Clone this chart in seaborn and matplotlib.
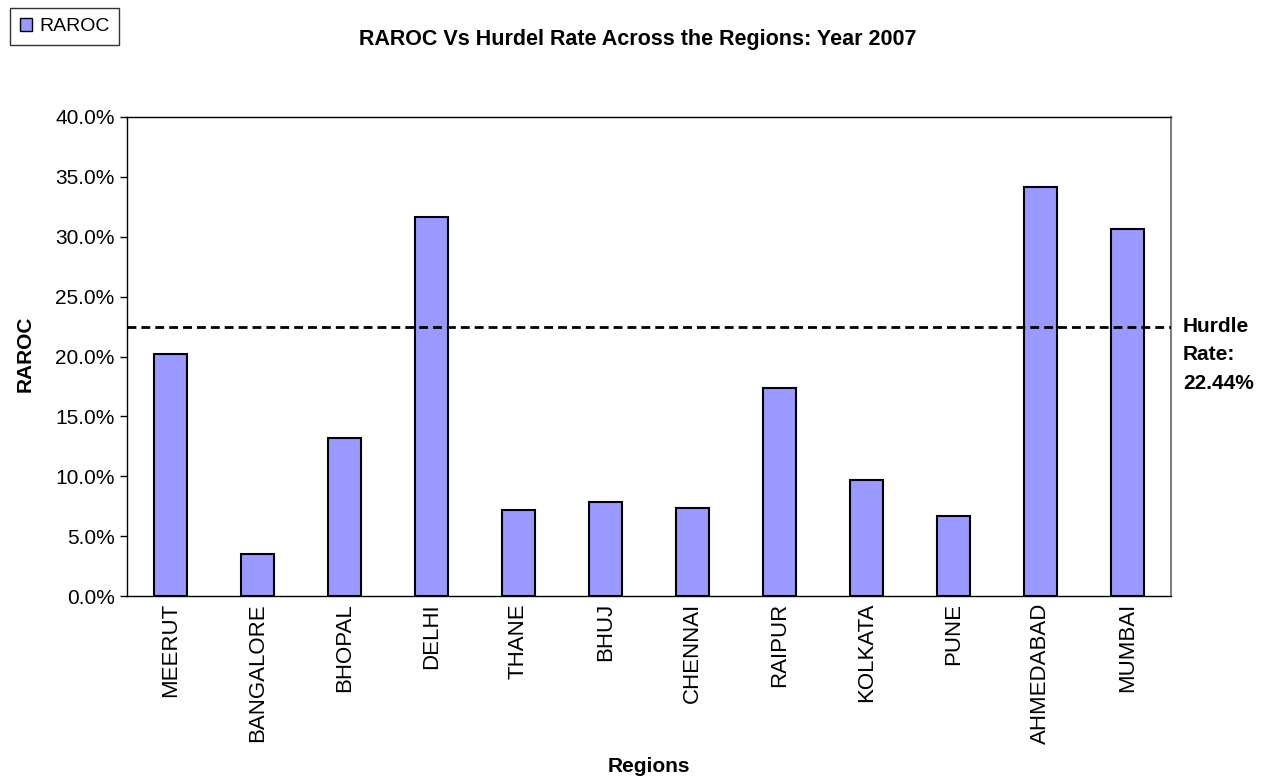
import matplotlib
matplotlib.use("Agg")
import matplotlib.pyplot as plt
import seaborn as sns
import pandas as pd
from matplotlib.ticker import FuncFormatter, FixedLocator
from matplotlib.patches import Patch

regions = ["MEERUT", "BANGALORE", "BHOPAL", "DELHI", "THANE", "BHUJ",
           "CHENNAI", "RAIPUR", "KOLKATA", "PUNE", "AHMEDABAD", "MUMBAI"]
raroc = [0.2023, 0.0354, 0.1320, 0.3165, 0.0720, 0.0787,
         0.0737, 0.1741, 0.0971, 0.0670, 0.3413, 0.3067]
hurdle_rate = 0.2244
y_ticks = [0.0, 0.05, 0.10, 0.15, 0.20, 0.25, 0.30, 0.35, 0.40]

sns.set_style("white")
plt.rcParams['font.family'] = ['Liberation Sans', 'DejaVu Sans']
plt.rcParams['text.color'] = 'black'
plt.rcParams['axes.labelcolor'] = 'black'
plt.rcParams['xtick.color'] = 'black'
plt.rcParams['ytick.color'] = 'black'

W, H = 1277, 783
fig = plt.figure(figsize=(W / 100, H / 100), dpi=100)
ax = fig.add_axes([127 / W, 1 - 596 / H, (1171 - 127) / W, (596 - 117) / H])

df = pd.DataFrame({"Region": regions, "RAROC": raroc})
bar_color = "#9999FF"
sns.barplot(data=df, x="Region", y="RAROC", color=bar_color, edgecolor="black",
            linewidth=1.5, width=0.39, saturation=1, ax=ax)

ax.axhline(hurdle_rate, color="black", linestyle=(0, (3.2, 1.8)), linewidth=2.0, zorder=5)

ax.set_xlim(-0.5, len(regions) - 0.5)
ax.set_ylim(0, 0.40)
ax.yaxis.set_major_locator(FixedLocator(y_ticks))
ax.yaxis.set_major_formatter(FuncFormatter(lambda v, p: f"{v * 100:.1f}%"))

ax.set_xticks(range(len(regions)))
ax.set_xticklabels(regions, rotation=90, fontsize=16)
ax.set_xticks([i - 0.5 for i in range(len(regions) + 1)], minor=True)
ax.tick_params(axis="x", which="major", length=0, pad=5)
ax.tick_params(axis="x", which="minor", length=5, width=1, color="black", direction="out")
ax.tick_params(axis="y", which="major", length=5, width=1, color="black",
               direction="out", labelsize=15, pad=4, left=True)

for s in ["left", "bottom", "top"]:
    ax.spines[s].set_color("black")
    ax.spines[s].set_linewidth(1.0)
ax.spines["right"].set_color("#808080")
ax.spines["right"].set_linewidth(1.5)

ax.set_xlabel("Regions", fontsize=15, fontweight="bold")
ax.xaxis.set_label_coords(0.5, (596 - 766) / (596 - 117))
ax.set_ylabel("RAROC", fontsize=15, fontweight="bold")
ax.yaxis.set_label_coords(-(127 - 25) / (1171 - 127), (596 - 354) / (596 - 117))
ax.xaxis.label.set_va("center")
ax.yaxis.label.set_va("center")

fig.text(638 / W, 1 - 40 / H, "RAROC Vs Hurdel Rate Across the Regions: Year 2007",
         ha="center", va="center", fontsize=15.5, fontweight="bold")

fig.text(1183 / W, 1 - 355 / H, "Hurdle\nRate:\n22.44%", ha="left", va="center",
         fontsize=15, fontweight="bold", linespacing=1.65)

handle = Patch(facecolor=bar_color, edgecolor="black", linewidth=1.0)
leg = fig.legend([handle], ["RAROC"], loc="upper left",
                 bbox_to_anchor=(10 / W, 1 - 8 / H), frameon=True, fancybox=False,
                 edgecolor="black", fontsize=14, handlelength=0.65, handleheight=0.65,
                 handletextpad=0.35, borderpad=0.5, borderaxespad=0)
leg.get_frame().set_linewidth(1.0)

fig.savefig("out.png", dpi=100)
